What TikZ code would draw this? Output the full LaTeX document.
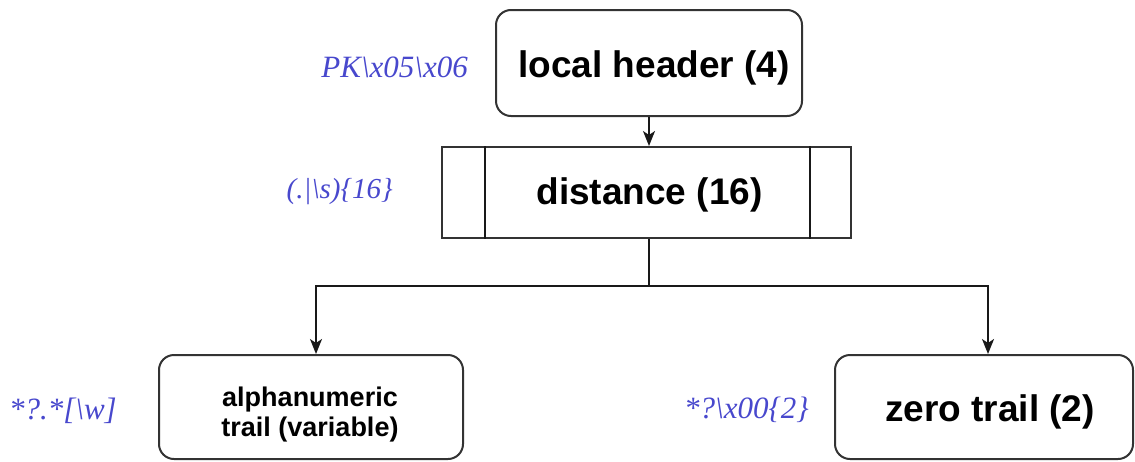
\documentclass[tikz,border=0pt]{standalone}
\usepackage{fontspec}
\setmainfont{Liberation Serif}
\setsansfont{Liberation Sans}
\usetikzlibrary{arrows.meta,calc}
\definecolor{regexblue}{RGB}{72,72,205}
\begin{document}
\begin{tikzpicture}[x=1pt,y=-1pt,
  box/.style={draw=black!80, line width=2pt, align=center, inner sep=0pt,
    font=\sffamily\bfseries\fontsize{37}{40}\selectfont},
  rbox/.style={box, rounded corners=15pt},
  regex/.style={text=regexblue, font=\itshape\fontsize{31}{34}\selectfont, anchor=east, inner sep=0pt},
  conn/.style={line width=1.8pt, draw=black!90, -{Stealth[length=15pt,width=12pt,inset=4pt]}},
  plain/.style={line width=1.8pt, draw=black!90}]
\useasboundingbox (0,0) rectangle (1135,461);
\node[rbox, minimum width=306pt, minimum height=106pt, text height=37pt, text depth=8pt] (local) at (649,63) {\hspace*{10pt}local header (4)};
\node[box, minimum width=409pt, minimum height=91pt, text height=31pt, text depth=8pt] (dist) at (646.5,192.5) {\hspace*{6pt}distance (16)};
\draw[plain] ([xshift=44pt]dist.north west) -- ([xshift=44pt]dist.south west);
\draw[plain] ([xshift=-42pt]dist.north east) -- ([xshift=-42pt]dist.south east);
\node[rbox, minimum width=304pt, minimum height=104pt] (alpha) at (311,407) {};
\node[inner sep=0pt, align=center, font=\sffamily\bfseries\fontsize{27}{30}\selectfont] (alphatext) at (310,415) {alphanumeric\\trail (variable)};
\node[rbox, minimum width=298pt, minimum height=104pt, text height=37pt, text depth=8pt] (zero) at (984,407) {\hspace*{12pt}zero trail (2)};
\node[regex] (r1) at (468,67) {PK\textbackslash x05\textbackslash x06};
\node[regex, font=\itshape\fontsize{29}{34}\selectfont] (r2) at (393,192) {(.\textbar\textbackslash s)\{16\}};
\node[regex] (r3) at (117,411) {*?.*[\textbackslash w]};
\node[regex] (r4) at (809,410) {*?\textbackslash x00\{2\}};
\draw[conn] (local.south) -- (local.south |- dist.north);
\coordinate (split) at ($(local.south |- dist.south)+(0,47)$);
\draw[plain] (local.south |- dist.south) -- (split);
\draw[conn] (split) -| ([xshift=5pt]alpha.north);
\draw[conn] (split) -| ([xshift=4pt]zero.north);
\end{tikzpicture}
\end{document}
